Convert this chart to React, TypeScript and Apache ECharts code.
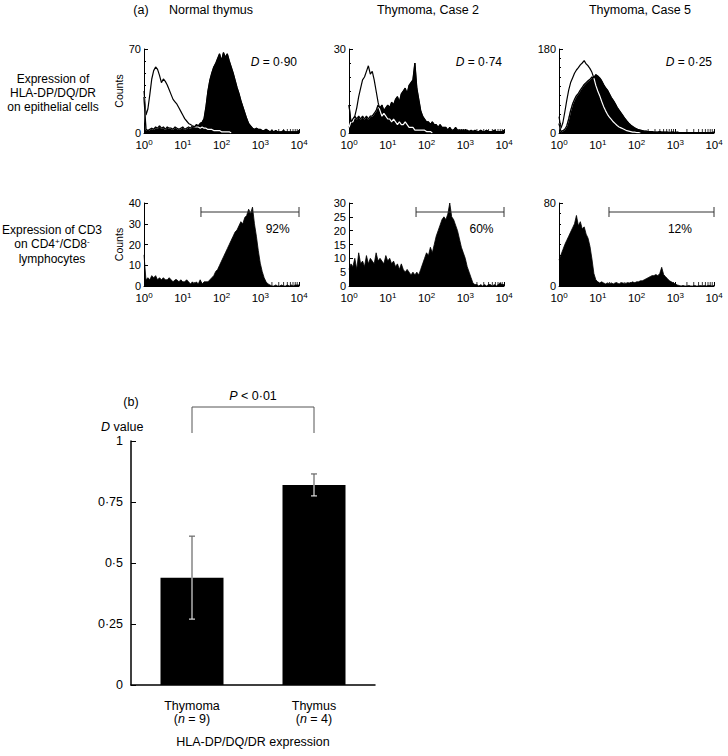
import React, { useEffect, useRef } from "react";
import * as echarts from "echarts";

const FONT = "'Liberation Sans', Arial, Helvetica, sans-serif";
const LOG_STEP = 0.05; // channel width in decades (log10 fluorescence)

// ---------- (a) top row: HLA-DP/DQ/DR on epithelial cells ----------
const panelTitles = ["Normal thymus", "Thymoma, Case 2", "Thymoma, Case 5"];
const dValues = ["0·90", "0·74", "0·25"];
const topYMax = [70, 30, 180];
const topMinorSplit = [7, 6, 9];

// filled (stained) histograms, log 0..4 in 0.05 steps
const normalFilled = [
  30, 3, 2, 3, 4, 3, 5, 4, 6, 4,
  5, 3, 5, 4, 4, 3, 5, 4, 3, 4,
  5, 3, 4, 5, 4, 6, 5, 7, 6, 8,
  9, 12, 22, 35, 44, 50, 55, 58, 62, 66,
  60, 67, 63, 66, 60, 55, 50, 44, 38, 33,
  27, 22, 17, 12, 8, 6, 4, 3, 4, 3,
  3, 2, 2, 3, 2, 1, 2, 1, 2, 1,
  1, 1, 2, 1, 1, 1, 1, 1, 1, 1,
  2,
];
// open (control) histograms
const normalOpen = [
  35, 15, 20, 32, 45, 52, 55, 53, 48, 42,
  45, 43, 40, 36, 32, 28, 26, 24, 21, 18,
  15, 12, 10, 8, 7, 6, 5, 5, 5, 4,
  5, 4, 4, 3, 3, 3, 2, 2, 2, 2,
  1, 1, 1, 1, 1, 0,
];
const case2Filled = [
  10, 4, 5, 6, 5, 6, 5, 6, 5, 6,
  5, 6, 6, 7, 8, 10, 9, 10, 8, 9,
  10, 9, 11, 10, 12, 13, 11, 14, 15, 16,
  14, 17, 18, 19, 25, 16, 12, 8, 6, 5,
  4, 4, 3, 4, 3, 3, 2, 3, 2, 2,
  2, 1, 2, 1, 1, 2, 1, 1, 1, 1,
  1, 1, 0.5, 1, 0.5, 1, 0.5, 0.5, 1, 0.5,
  0.5, 1, 0.5, 0.5, 0.5, 1, 0.5, 0.5, 0.5, 0.5,
  1,
];
const case2Open = [
  2, 4, 4, 6, 9, 13, 16, 19, 20, 22,
  24, 21, 22, 19, 15, 11, 8, 6, 7, 6,
  5, 5, 4, 5, 4, 3, 4, 3, 3, 4,
  3, 2, 2, 2, 1, 1, 1, 1, 1, 1,
  0.5, 0.5, 0.5, 0,
];
const case5Filled = [
  20, 3, 5, 8, 15, 30, 48, 62, 72, 80,
  85, 92, 98, 104, 108, 112, 115, 120, 118, 125,
  122, 118, 112, 104, 97, 92, 84, 76, 70, 63,
  55, 49, 43, 37, 31, 26, 21, 17, 14, 11,
  9, 7, 6, 5, 4, 4, 3, 3, 3, 2,
  2, 2, 3, 2, 2, 2, 2, 1, 2, 2,
  1, 2, 1, 1, 1, 1, 1, 1, 1, 1,
  1, 1, 1, 1, 1, 1, 1, 1, 1, 1,
  2,
];
const case5Open = [
  35, 10, 22, 45, 70, 92, 108, 118, 128, 135,
  140, 146, 150, 155, 148, 144, 138, 130, 118, 102,
  90, 80, 68, 57, 48, 40, 34, 29, 24, 20,
  16, 13, 11, 9, 7, 5, 4, 3, 2, 2,
  1, 1, 0,
];

// ---------- (a) bottom row: CD3 on CD4+/CD8- lymphocytes ----------
const bottomYMax = [40, 30, 80];
const bottomYInterval = [10, 5, 80];
const cd3Normal = [
  15, 3, 4, 3, 5, 4, 5, 3, 4, 3,
  4, 3, 3, 4, 3, 2, 3, 3, 2, 3,
  2, 2, 3, 2, 1, 2, 1, 2, 1, 3,
  1, 2, 2, 2, 3, 4, 5, 7, 8, 10,
  12, 14, 16, 18, 20, 22, 24, 26, 27, 29,
  31, 30, 33, 34, 37, 35, 38, 30, 24, 17,
  11, 7, 4, 2, 1, 0.5, 0, 0, 0.5, 0,
  0, 0.5, 0, 0, 0.5, 0, 0.5, 0, 0.5, 0.5,
  0.5,
];
const cd3Case2 = [
  6, 8, 7, 10, 6, 12, 8, 9, 7, 11,
  8, 10, 9, 8, 12, 9, 10, 9, 8, 11,
  9, 10, 8, 9, 7, 8, 6, 8, 6, 5,
  6, 5, 4, 5, 4, 5, 4, 6, 8, 10,
  12, 11, 14, 12, 15, 18, 20, 22, 24, 25,
  24, 26, 30, 25, 24, 22, 20, 17, 14, 12,
  10, 7, 5, 3, 1, 0.5, 0.5, 0, 0.5, 0,
  0.5, 0, 0.5, 0.5, 0, 0.5, 0, 0.5, 1, 0.5,
  0.5,
];
const cd3Case5 = [
  25, 30, 35, 40, 44, 48, 52, 56, 60, 68,
  58, 62, 55, 57, 50, 46, 38, 26, 12, 6,
  4, 3, 4, 3, 2, 3, 2, 3, 2, 3,
  3, 2, 3, 3, 2, 3, 3, 3, 4, 3,
  4, 4, 5, 5, 6, 7, 8, 9, 10, 10,
  11, 10, 12, 18, 11, 9, 7, 5, 4, 3,
  2, 1, 0.5, 0, 0.5, 0, 0, 0.5, 0, 0,
  0.5, 0, 0, 0.5, 0, 0.5, 0, 0.5, 0.5, 0,
  0.5,
];
const gateStart = [1.47, 1.73, 1.29];
const gateEnd = [4, 4, 4];
const gatePct = ["92%", "60%", "12%"];
const gateLabelAt = [3.45, 3.42, 3.12];

// ---------- (b) bar chart ----------
const barCategories = ["Thymoma", "Thymus"];
const barN = [9, 4];
const barMeans = [0.44, 0.82];
const barLow = [0.27, 0.775];
const barHigh = [0.61, 0.865];

const topFilled = [normalFilled, case2Filled, case5Filled];
const topOpen = [normalOpen, case2Open, case5Open];
const bottomFilled = [cd3Normal, cd3Case2, cd3Case5];

const LEFTS = [144, 349, 559];
const GW = 155;

const toPairs = (arr: number[]) => arr.map((v, i) => [Math.round(i * LOG_STEP * 100) / 100, v]);

const minorLogTicks: number[][] = [];
for (let d = 0; d < 4; d++) for (let k = 2; k <= 9; k++) minorLogTicks.push([d + Math.log10(k), 0]);

function histXAxis(gi: number) {
  return {
    gridIndex: gi, type: "value", min: 0, max: 4, interval: 1,
    axisLine: { show: true, onZero: false, lineStyle: { color: "#000", width: 1 } },
    axisTick: { show: true, inside: true, length: 4, lineStyle: { color: "#000" } },
    splitLine: { show: false },
    axisLabel: {
      color: "#000", fontFamily: FONT, fontSize: 11.5, margin: 5,
      formatter: (v: number) => `10{s|${v}}`,
      rich: { s: { fontSize: 8, fontFamily: FONT, color: "#000", padding: [0, 0, 6, 0] } },
    },
  };
}
function histYAxis(gi: number, max: number, interval: number, minorSplit: number, named: boolean) {
  return {
    gridIndex: gi, type: "value", min: 0, max, interval,
    axisLine: { show: true, onZero: false, lineStyle: { color: "#000", width: 1 } },
    axisTick: { show: true, inside: true, length: 4, lineStyle: { color: "#000" } },
    minorTick: { show: minorSplit > 0, splitNumber: Math.max(minorSplit, 1), length: 2, lineStyle: { color: "#000" } },
    splitLine: { show: false },
    axisLabel: { color: "#000", fontFamily: FONT, fontSize: 11, margin: 3 },
    name: named ? "Counts" : "", nameLocation: "middle", nameGap: 20, nameRotate: 90,
    nameTextStyle: { color: "#000", fontFamily: FONT, fontSize: 10.5 },
  };
}

function buildOption() {
  const grid: any[] = [];
  const xAxis: any[] = [];
  const yAxis: any[] = [];
  const series: any[] = [];
  const graphic: any[] = [];

  for (let p = 0; p < 3; p++) grid.push({ left: LEFTS[p], top: 49, width: GW, height: 84 });
  for (let p = 0; p < 3; p++) grid.push({ left: LEFTS[p], top: 203, width: GW, height: 83 });
  grid.push({ left: 131, top: 441, width: 244, height: 244 });

  for (let gi = 0; gi < 6; gi++) {
    xAxis.push(histXAxis(gi));
    const p = gi % 3;
    if (gi < 3) yAxis.push(histYAxis(gi, topYMax[p], topYMax[p], topMinorSplit[p], p === 0));
    else yAxis.push(histYAxis(gi, bottomYMax[p], bottomYInterval[p], p === 2 ? 8 : 0, p === 0));
    series.push({
      type: "scatter", xAxisIndex: gi, yAxisIndex: gi, data: minorLogTicks, symbol: "rect",
      symbolSize: [1, 4], symbolOffset: [0, -2], itemStyle: { color: "#000" }, z: 1, silent: true,
    });
  }

  const lineBase = { type: "line", symbol: "none", showSymbol: false, silent: true, smooth: false };
  // top row: open control curve + filled stained histogram
  for (let p = 0; p < 3; p++) {
    const filled = topFilled[p];
    const open = topOpen[p];
    const openInside = open.map((v, i) => Math.min(v, filled[i]));
    series.push({ ...lineBase, xAxisIndex: p, yAxisIndex: p, data: toPairs(open), lineStyle: { color: "#000", width: 1.2 }, z: 2 });
    series.push({ ...lineBase, xAxisIndex: p, yAxisIndex: p, data: toPairs(filled), lineStyle: { color: "#000", width: 0.8 }, areaStyle: { color: "#000", opacity: 1 }, z: 3 });
    series.push({ ...lineBase, xAxisIndex: p, yAxisIndex: p, data: toPairs(openInside), lineStyle: { color: "#fff", width: 1.2 }, z: 4 });
    series.push({ ...lineBase, xAxisIndex: p, yAxisIndex: p, data: toPairs(filled), lineStyle: { color: "#000", width: 1.3 }, z: 5 });
  }
  // bottom row: filled histograms + gates
  for (let p = 0; p < 3; p++) {
    const gi = p + 3;
    series.push({ ...lineBase, xAxisIndex: gi, yAxisIndex: gi, data: toPairs(bottomFilled[p]), lineStyle: { color: "#000", width: 0.8 }, areaStyle: { color: "#000", opacity: 1 }, z: 3 });
    const pct = gatePct[p];
    series.push({
      type: "custom", xAxisIndex: gi, yAxisIndex: gi, silent: true, z: 6,
      data: [[gateStart[p], gateEnd[p], gateLabelAt[p]]],
      renderItem: (params: any, api: any) => {
        const x1 = api.coord([api.value(0), 0])[0];
        const x2 = api.coord([api.value(1), 0])[0];
        const xl = api.coord([api.value(2), 0])[0];
        const top = params.coordSys.y;
        const y = top + 9;
        const st = { stroke: "#333", lineWidth: 1 };
        return {
          type: "group",
          children: [
            { type: "line", shape: { x1, y1: y, x2, y2: y }, style: st },
            { type: "line", shape: { x1, y1: y - 5, x2: x1, y2: y + 5 }, style: st },
            { type: "line", shape: { x1: x2, y1: y - 5, x2, y2: y + 5 }, style: st },
            { type: "text", x: xl, y: top + 26, style: { text: pct, fontSize: 12, fontFamily: FONT, fill: "#000", align: "center", verticalAlign: "middle" } },
          ],
        };
      },
    });
  }

  // bar chart
  xAxis.push({
    gridIndex: 6, type: "category", data: barCategories,
    axisLine: { show: true, lineStyle: { color: "#000", width: 1.5 } },
    axisTick: { show: false },
    axisLabel: {
      color: "#000", fontFamily: FONT, fontSize: 12.5, lineHeight: 13, margin: 14,
      formatter: (v: string, i: number) => `${v}\n({i|n} = ${barN[i]})`,
      rich: { i: { fontStyle: "italic", fontSize: 12.5, fontFamily: FONT, color: "#000" } },
    },
    name: "HLA-DP/DQ/DR expression", nameLocation: "middle", nameGap: 50,
    nameTextStyle: { color: "#000", fontFamily: FONT, fontSize: 12.5 },
  });
  yAxis.push({
    gridIndex: 6, type: "value", min: 0, max: 1, interval: 0.25,
    axisLine: { show: true, lineStyle: { color: "#000", width: 1.5 } },
    axisTick: { show: true, inside: true, length: 5, lineStyle: { color: "#000" } },
    splitLine: { show: false },
    axisLabel: {
      color: "#000", fontFamily: FONT, fontSize: 12.5, margin: 8,
      formatter: (v: number) => String(v).replace(".", "·"),
    },
  });
  series.push({
    type: "bar", xAxisIndex: 6, yAxisIndex: 6, data: barMeans, barWidth: 63,
    itemStyle: { color: "#000" }, silent: true, z: 2,
  });
  series.push({
    type: "custom", xAxisIndex: 6, yAxisIndex: 6, silent: true, z: 4,
    data: barCategories.map((_, i) => [i, barLow[i], barHigh[i], barMeans[i]]),
    renderItem: (_params: any, api: any) => {
      const c = api.value(0);
      const x = api.coord([c, 0])[0];
      const yLow = api.coord([c, api.value(1)])[1];
      const yHigh = api.coord([c, api.value(2)])[1];
      const yMean = api.coord([c, api.value(3)])[1];
      const dark = { stroke: "#666", lineWidth: 1.2 };
      const light = { stroke: "#ddd", lineWidth: 1.2 };
      const hw = 3;
      return {
        type: "group",
        children: [
          { type: "line", shape: { x1: x, y1: yHigh, x2: x, y2: yMean }, style: dark },
          { type: "line", shape: { x1: x, y1: yMean, x2: x, y2: yLow }, style: light },
          { type: "line", shape: { x1: x - hw, y1: yHigh, x2: x + hw, y2: yHigh }, style: dark },
          { type: "line", shape: { x1: x - hw, y1: yLow, x2: x + hw, y2: yLow }, style: light },
        ],
      };
    },
  });

  // texts
  const txt = (text: string, x: number, y: number, extra: any = {}) => ({
    type: "text", x, y, silent: true,
    style: {
      text, fontFamily: FONT, fontSize: extra.fontSize || 12.5, fill: "#000",
      align: extra.align || "center", textAlign: extra.align || "center",
      verticalAlign: "middle", textVerticalAlign: "middle",
      lineHeight: extra.lineHeight, rich: extra.rich,
    },
  });
  const italicRich = (fs: number) => ({ i: { fontStyle: "italic", fontFamily: FONT, fontSize: fs, fill: "#000", color: "#000" } });
  const supRich = { s: { fontSize: 8, fontFamily: FONT, padding: [0, 0, 6, 0], color: "#000", fill: "#000" } };

  graphic.push(txt("(a)", 141, 10));
  const titleX = [211, 428, 640];
  for (let p = 0; p < 3; p++) {
    graphic.push(txt(panelTitles[p], titleX[p], 10));
    graphic.push(txt(`{i|D} = ${dValues[p]}`, LEFTS[p] + GW - 2, 62, { align: "right", fontSize: 12, rich: italicRich(12) }));
  }
  graphic.push(txt("Expression of\nHLA-DP/DQ/DR\non epithelial cells", 53, 93, { fontSize: 12, lineHeight: 14 }));
  graphic.push(txt("Expression of CD3\non CD4{s|+}/CD8{s|-}\nlymphocytes", 52, 244, { fontSize: 12, lineHeight: 14.5, rich: supRich }));

  graphic.push(txt("(b)", 131, 402));
  graphic.push(txt("{i|D} value", 101, 427, { align: "left", rich: italicRich(12.5) }));
  graphic.push(txt("{i|P} < 0·01", 253, 396, { rich: italicRich(12.5) }));
  graphic.push({
    type: "polyline", silent: true,
    shape: { points: [[192, 433], [192, 407], [314, 407], [314, 433]] },
    style: { stroke: "#555", lineWidth: 1, fill: "none" },
  });

  return {
    animation: false,
    backgroundColor: "#fff",
    textStyle: { fontFamily: FONT },
    grid, xAxis, yAxis, series, graphic,
  };
}

export default function App() {
  const ref = useRef<HTMLDivElement>(null);
  useEffect(() => {
    document.body.style.margin = "0";
    const chart = echarts.init(ref.current!, undefined, { renderer: "svg" });
    chart.setOption(buildOption() as any);
    return () => chart.dispose();
  }, []);
  return <div ref={ref} style={{ width: 728, height: 756, background: "#fff" }} />;
}
